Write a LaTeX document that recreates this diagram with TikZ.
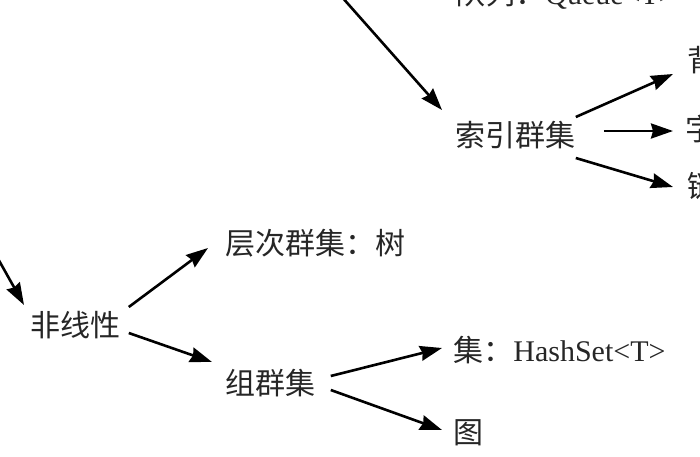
\documentclass[tikz,border=0pt]{standalone}
\usepackage{fontspec}
\setmainfont{Liberation Serif}
\newfontfamily\cjk{Noto Sans CJK SC}
\usetikzlibrary{arrows.meta}
\tikzstyle{term} = [anchor=west, inner sep=0pt, text=black!85, font=\fontsize{15}{18}\selectfont\cjk]
\tikzstyle{arrow} = [line width=1.3pt, -{Stealth[length=11pt, width=7.5pt, inset=1pt]}]

\begin{document}
\begin{tikzpicture}[x=0.5pt, y=-0.5pt]

    \useasboundingbox (0,0) rectangle (700,456);
    \clip (0,0) rectangle (700,456);

    \node (queue) [term] at (455,-6) {队列：\rmfamily Queue<T>};
    \node (index) [term] at (455,135) {索引群集};
    \node (bag) [term] at (687,60) {背包};
    \node (dict) [term] at (685,129) {字典};
    \node (linked) [term] at (687,186) {链表};
    \node (nonlin) [term] at (30,325) {非线性};
    \node (tree) [term] at (225,243) {层次群集：树};
    \node (group) [term] at (225,383) {组群集};
    \node (hashset) [term] at (453,350) {集：\rmfamily HashSet<T>};
    \node (graph) [term] at (453,433) {图};

    % branches coming in from outside the frame
    \coordinate (upper) at (318,-30);
    \coordinate (lower) at (-17,232);

    \draw [arrow] (upper) -- ([shift={(-13,-25)}]index.west);
    \draw [arrow] (lower) -- ([shift={(-6,-20)}]nonlin.west);

    \draw [arrow] ([shift={(8,-18)}]nonlin.east) -- ([shift={(-17,5)}]tree.west);
    \draw [arrow] ([shift={(8,8)}]nonlin.east) -- ([shift={(-13,-21)}]group.west);
    \draw [arrow] ([shift={(15,-7)}]group.east) -- ([shift={(-11,-2)}]hashset.west);
    \draw [arrow] ([shift={(15,7)}]group.east) -- ([shift={(-11,-3)}]graph.west);

    \draw [arrow] ([shift={(0,-18)}]index.east) -- ([shift={(-14,14)}]bag.west);
    \draw [arrow] ([shift={(28,-4)}]index.east) -- ([shift={(-12,2)}]dict.west);
    \draw [arrow] ([shift={(0,23)}]index.east) -- ([shift={(-14,1)}]linked.west);

\end{tikzpicture}
\end{document}
